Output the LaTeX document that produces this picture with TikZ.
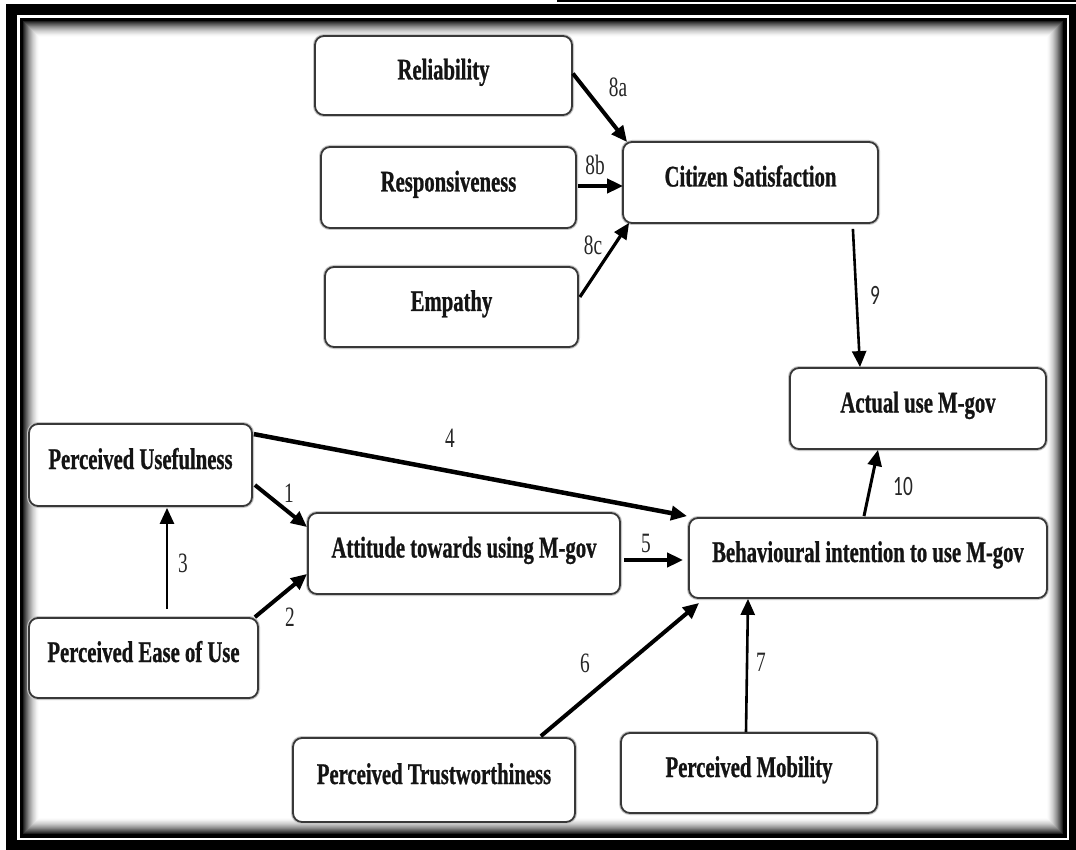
\documentclass[tikz,border=0pt]{standalone}
\usepackage{fontspec}
\usetikzlibrary{arrows.meta,calc}
\newfontfamily\boxfont{Liberation Serif}[FakeStretch=0.69, BoldFeatures={FakeBold=0.8}]
\newfontfamily\numfont{Liberation Serif}[FakeStretch=0.69]
\newfontfamily\sansnum{Carlito}[FakeStretch=0.69]

\tikzset{
  construct/.style={draw=black!78, line width=1.8pt, rounded corners=9pt, fill=white,
    preaction={draw=black!22, line width=4pt},
    font=\boxfont\bfseries\fontsize{30}{32}\selectfont, text=black!92,
    text height=22pt, text depth=14pt, inner sep=0pt},
  link/.style={line width=#1, -{Triangle[length=16pt,width=14pt]}},
  link/.default=4pt,
  num/.style={font=\numfont\fontsize{28}{30}\selectfont, text=black!85, inner sep=0pt},
  sansn/.style={font=\sansnum\fontsize{28}{30}\selectfont, text=black!85, inner sep=0pt}
}

\begin{document}
\begin{tikzpicture}[x=1pt,y=-1pt]
\useasboundingbox (0,0) rectangle (1076,850);
\fill[white] (0,0) rectangle (1076,850);

% heavy double frame with an inner soft shadow
\draw[line width=1.6pt] (557,0.8) -- (1076,0.8);
\fill[black] (6,4) rectangle (1076,850);
\fill[white] (17,15.5) rectangle (1069,840);
\fill[black] (19.5,18) rectangle (1066.5,837.5);
\foreach \i in {0,...,16}{
  \pgfmathtruncatemacro\p{round(88*(1-\i/16)^1.6)}
  \fill[black!\p!white] (23+\i,21+\i) rectangle (1063-\i,834-\i);
}

% constructs
\node[construct, minimum width=257pt, minimum height=79pt] (rel)   at (443.5,75.5) {Reliability};
\node[construct, minimum width=255pt, minimum height=81pt] (resp)  at (448.5,187.5) {Responsiveness};
\node[construct, minimum width=253pt, minimum height=80pt] (emp)   at (451.5,307) {Empathy};
\node[construct, minimum width=255pt, minimum height=81pt] (cs)    at (750.5,182.5) {Citizen Satisfaction};
\node[construct, minimum width=256pt, minimum height=81pt] (act)   at (918,408.5) {Actual use M-gov};
\node[construct, minimum width=358pt, minimum height=80pt] (bi)    at (868,558) {Behavioural intention to use M-gov};
\node[construct, minimum width=223pt, minimum height=82pt] (pu)    at (140.5,465) {Perceived Usefulness};
\node[construct, minimum width=312pt, minimum height=81pt] (att)   at (464,553.5) {Attitude towards using M-gov};
\node[construct, minimum width=229pt, minimum height=80pt] (peou)  at (143.5,658) {Perceived Ease of Use};
\node[construct, minimum width=282pt, minimum height=84pt] (trust) at (434,780) {Perceived Trustworthiness};
\node[construct, minimum width=256pt, minimum height=80pt] (mob)   at (749,773) {Perceived Mobility};

% hypothesised paths
\draw[link] ($(rel.east)+(0,-2)$) -- ($(cs.north west)+(5,1)$);
\draw[link=4.5pt] ($(resp.east)+(1,-1.5)$) -- ($(cs.west|-resp.east)+(1,-1.5)$);
\draw[link=3.2pt] ($(emp.east)+(1,-10)$) -- ($(cs.south west)+(7,-1)$);
\draw[link=2.6pt] ($(cs.south east)+(-26,5)$) -- ($(act.north)+(-58,0)$);
\draw[link=3pt] ($(bi.north)+(-4,-1)$) -- ($(act.south)+(-40,0)$);
\draw[link=4.5pt] ($(pu.north east)+(1,11)$) -- ($(bi.north west)+(-1,-1)$);
\draw[link] ($(pu.east)+(2,20)$) -- ($(att.north west)+(0,15)$);
\draw[link] ($(peou.north east)+(-4,0)$) -- ($(att.south west)+(0,-21)$);
\draw[link=2.6pt] ($(peou.north)+(23.5,-8)$) -- ($(pu.south)+(26.5,1)$);
\draw[link=4.5pt] ($(att.east)+(3,6.5)$) -- ($(bi.west)+(-5,2)$);
\draw[link] ($(trust.north east)+(-35,-1)$) -- ($(bi.south west)+(11,4)$);
\draw[link=2.6pt] ($(mob.north)+(-3,0)$) -- ($(bi.south)+(-120,0)$);

% path numbers
\node[num]   (n8a) at (618,87)  {8a};
\node[num]   (n8b) at (595,165) {8b};
\node[num]   (n8c) at (593,245) {8c};
\node[sansn] (n9)  at (875,295) {9};
\node[sansn] (n10) at (903,487) {10};
\node[num]   (n4)  at (450,438) {4};
\node[num]   (n1)  at (289,493) {1};
\node[num]   (n2)  at (290,617) {2};
\node[num]   (n3)  at (183,563) {3};
\node[num]   (n5)  at (646,543) {5};
\node[num]   (n6)  at (585,663) {6};
\node[num]   (n7)  at (761,662) {7};
\end{tikzpicture}
\end{document}
